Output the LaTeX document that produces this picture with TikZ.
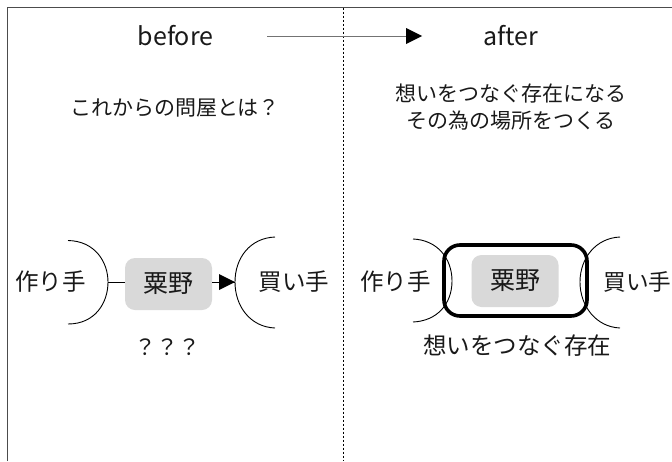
\documentclass[tikz,border=0pt]{standalone}
\usepackage{fontspec}
\setmainfont{Noto Sans CJK JP}
\usetikzlibrary{arrows.meta}
\tikzset{
  lab/.style={inner sep=0pt,font=\fontsize{#1}{#1}\selectfont,text=black!90,align=center},
  lab/.default=21,
  core/.style={fill=black!15,rounded corners=10pt,minimum width=87pt,minimum height=52pt,inner sep=0pt,font=\fontsize{25}{25}\selectfont,text=black!90},
  arc/.style={line width=.9pt},
  link/.style={line width=.9pt}
}
\begin{document}
\begin{tikzpicture}[x=1pt,y=-1pt]
\useasboundingbox (0,0) rectangle (672,461);
\fill[white] (0,0) rectangle (672,461);
\draw[line width=1.1pt,black!70] (7.5,461) -- (7.5,7.5) -- (672,7.5);
\draw[line width=.8pt,dash pattern=on 2.5pt off 1.5pt] (343,7.5) -- (343,461);
\node[lab=25] (before) at (175.5,36) {before};
\node[lab=25] (after) at (510.5,36) {after};
\coordinate (as) at (267,36);
\coordinate (ae) at (422,36);
\coordinate (an) at (406,36);
\draw[line width=.8pt,black!55] (as) -- (an);
\fill (406,28) -- (ae) -- (406,44) -- cycle;
\node[lab=21] (q1) at (175,108) {これからの問屋とは？};
\node[lab=21] (q2) at (511,107) {想いをつなぐ存在になる\\[6pt]その為の場所をつくる};
% before
\coordinate (la) at (108,282);
\coordinate (ra) at (235,282);
\draw[arc] (68,240.5) .. controls (95,241) and (108,262) .. (la) .. controls (108,303) and (95,324) .. (68,324);
\draw[arc] (275,237) .. controls (250,238) and (235,258) .. (ra) .. controls (235,306) and (250,327) .. (275,328);
\node[core] (c1) at (168.5,284) {粟野};
\draw[link] (la) -- (c1.west |- la);
\draw[link] (c1.east |- ra) -- (ra);
\fill (219,274) -- (ra) -- (219,290) -- cycle;
\node[lab=23.5] (m1) at (50.5,282) {作り手};
\node[lab=23.5] (b1) at (294,282) {買い手};
\node[lab=22] (qq) at (167,347) {？？？};
% after
\draw[arc] (413,239) .. controls (437,240) and (452,258) .. (452,281) .. controls (452,304) and (437,321) .. (413,322);
\draw[arc] (620,237) .. controls (596,238) and (580,258) .. (580,282) .. controls (580,306) and (596,327) .. (620,328);
\node[draw,line width=3.6pt,rounded corners=16pt,minimum width=143pt,minimum height=71pt,inner sep=0pt] (frame) at (515.5,280.5) {};
\node[core] (c2) at (515,281) {粟野};
\node[lab=23.5] (m2) at (395.5,282) {作り手};
\node[lab=22.6] (b2) at (637.5,282) {買い手};
\node[lab=23.5] (t2) at (517,346) {想いをつなぐ存在};
\end{tikzpicture}
\end{document}
